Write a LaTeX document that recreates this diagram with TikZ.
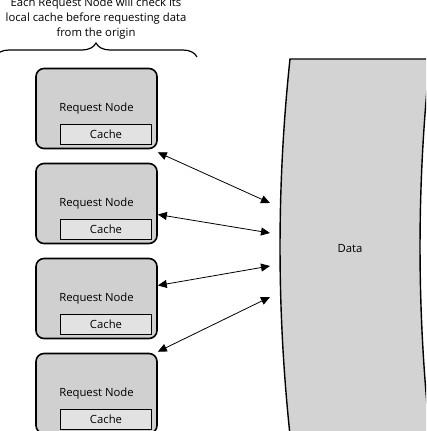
\documentclass[tikz,border=0pt]{standalone}
\usepackage{fontspec}
\setmainfont{Open Sans}
\usepackage{xcolor}
\usepackage{tikz}
\usetikzlibrary{arrows.meta, positioning, calc, decorations.pathreplacing}
\definecolor{nodegray}{RGB}{208,208,208}
\definecolor{cachegray}{RGB}{226,226,226}
\definecolor{datagray}{RGB}{211,211,211}
\tikzstyle{reqnode} = [draw, rectangle, rounded corners=8pt, line width=1.6pt, fill=nodegray, minimum width=121pt, minimum height=80pt, font=\fontsize{11.3}{13}\selectfont]
\tikzstyle{cachebox} = [draw, rectangle, line width=1.6pt, fill=cachegray, minimum width=91pt, minimum height=20pt, inner sep=0pt, font=\fontsize{11.3}{13}\selectfont]
\tikzstyle{arrow} = [line width=0.8pt, <->, >={Triangle[length=9pt, width=8pt]}]

\begin{document}
\begin{tikzpicture}[x=1pt, y=-1pt]
    \useasboundingbox (0,0) rectangle (426,431);
    \clip (0,0) rectangle (426,431);
    % data store on the right
    \draw[line width=1.4pt, fill=datagray] (290,59) -- (430,59) .. controls (416.7,184) and (416.7,310) .. (430,435) -- (290,435) .. controls (276.7,310) and (276.7,184) .. cycle;
    \node[font=\fontsize{11.3}{13}\selectfont] (data) at (350,249) {Data};
    \coordinate (d1) at (270,203);
    \coordinate (d2) at (270,233);
    \coordinate (d3) at (270,266);
    \coordinate (d4) at (270,297);
    % request nodes
    \node[reqnode] (req1) at (96.5,108.5) {Request Node};
    \node[reqnode, below=13.4pt of req1] (req2) {Request Node};
    \node[reqnode, below=13.4pt of req2] (req3) {Request Node};
    \node[reqnode, below=13.4pt of req3] (req4) {Request Node};
    \node[cachebox, above left=4pt and 5.5pt of req1.south east] (cache1) {Cache};
    \node[cachebox, above left=4pt and 5.5pt of req2.south east] (cache2) {Cache};
    \node[cachebox, above left=4pt and 5.5pt of req3.south east] (cache3) {Cache};
    \node[cachebox, above left=4pt and 5.5pt of req4.south east] (cache4) {Cache};
    \draw[arrow] ([yshift=-3pt]req1.south east) -- (d1);
    \draw[arrow] ([yshift=-11pt]req2.east) -- (d2);
    \draw[arrow] ([yshift=13pt]req3.east) -- (d3);
    \draw[arrow] ([yshift=1pt]req4.north east) -- (d4);
    \draw[decorate, decoration={brace, amplitude=14pt}, line width=1.2pt] (-5,57) -- (197,57) node[midway, above=17pt, inner sep=0pt, align=center, font=\fontsize{11.3}{15}\selectfont] (note) {Each Request Node will check its\\local cache before requesting data\\from the origin};
\end{tikzpicture}
\end{document}
